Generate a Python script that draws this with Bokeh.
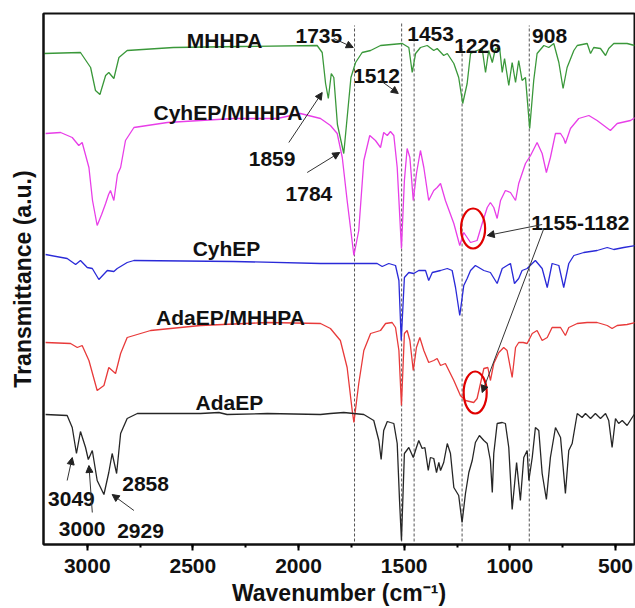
from bokeh.plotting import figure
from bokeh.models import Range1d, SingleIntervalTicker, FixedTicker, Arrow, NormalHead
from bokeh.embed import file_html
from bokeh.resources import INLINE
from bokeh.core.properties import value

# ---------------- data (wavenumber cm-1, transmittance a.u. with offsets) ----------------
mhhpa_wn = [3207, 3032, 2984, 2961, 2940, 2913, 2898, 2874, 2850, 2811, 2592, 2275, 1912, 1888, 1872,
            1859, 1845, 1833, 1816, 1786, 1773, 1752, 1730, 1699, 1659, 1612, 1509, 1478, 1462, 1446,
            1423, 1391, 1360, 1344, 1313, 1296, 1265, 1242, 1223, 1202, 1186, 1155, 1131, 1115, 1100,
            1083, 1068, 1048, 1036, 1025, 1005, 989, 973, 958, 942, 926, 906, 887, 871, 839, 816, 792,
            768, 748, 729, 697, 681, 634, 618, 603, 571, 547, 532, 508, 445, 409]
mhhpa_y = [491, 492, 477, 454, 450, 469, 472, 466, 487, 494, 497, 498, 499, 492, 461,
           446, 471, 467, 420, 391, 420, 467, 482, 492, 494, 499, 501, 497, 472, 491,
           497, 499, 494, 496, 489, 491, 481, 467, 441, 461, 491, 494, 496, 472, 494,
           482, 496, 496, 472, 486, 459, 482, 462, 484, 464, 467, 416, 464, 491, 499, 497, 501,
           482, 456, 477, 494, 499, 501, 491, 497, 496, 489, 496, 501, 501, 499]

cyh_mh_wn = [3197, 3126, 3071, 3040, 3024, 2992, 2975, 2953, 2932, 2913, 2899, 2890, 2874, 2857, 2842,
             2819, 2779, 2621, 2308, 2101, 1991, 1896, 1849, 1817, 1793, 1770, 1738, 1715, 1691, 1663,
             1636, 1612, 1597, 1580, 1565, 1549, 1533, 1513, 1499, 1486, 1473, 1457, 1442, 1423, 1407,
             1384, 1360, 1344, 1328, 1305, 1265, 1237, 1218, 1186, 1155, 1131, 1107, 1092, 1076, 1060,
             1044, 1021, 997, 973, 958, 926, 902, 871, 847, 827, 808, 784, 760, 745, 737, 713, 674,
             626, 587, 524, 492, 429, 405]
cyh_mh_y = [411, 412, 407, 399, 402, 377, 344, 319, 330, 341, 350, 354, 344, 370, 377,
            404, 417, 422, 426, 426, 431, 426, 419, 411, 387, 344, 289, 314, 384, 409,
            404, 397, 412, 409, 413, 409, 377, 296, 364, 396, 387, 344, 371, 394, 377,
            344, 354, 357, 361, 344, 321, 299, 312, 302, 304, 321, 337, 342, 337, 326,
            344, 354, 352, 344, 361, 381, 389, 402, 391, 372, 387, 411, 411, 406, 401, 416, 426,
            429, 424, 414, 421, 424, 427]

cyh_wn = [3197, 3095, 3055, 3032, 3000, 2976, 2945, 2905, 2874, 2858, 2811, 2779, 2308, 1896, 1849,
          1628, 1604, 1573, 1541, 1525, 1514, 1499, 1478, 1455, 1431, 1399, 1384, 1367, 1328, 1296,
          1273, 1257, 1237, 1218, 1202, 1186, 1163, 1123, 1092, 1060, 1036, 1013, 997, 978, 958,
          942, 918, 894, 879, 847, 823, 800, 768, 745, 721, 697, 650, 587, 539, 508, 461, 405]
cyh_y = [290, 286, 280, 284, 277, 276, 265, 274, 273, 276, 282, 284, 283, 281, 281,
         281, 278, 281, 279, 264, 204, 267, 272, 271, 274, 274, 264, 272, 274, 276,
         274, 257, 229, 259, 266, 274, 279, 274, 272, 261, 276, 279, 281, 261, 266,
         274, 276, 281, 284, 276, 257, 281, 279, 257, 281, 289, 292, 294, 297, 295, 297, 299]

ada_mh_wn = [3197, 3079, 3047, 3024, 2992, 2953, 2921, 2898, 2866, 2842, 2811, 2700, 2464, 2148, 1896,
             1849, 1802, 1770, 1746, 1738, 1715, 1691, 1659, 1612, 1588, 1557, 1541, 1525, 1513, 1499,
             1486, 1473, 1457, 1442, 1426, 1407, 1384, 1360, 1344, 1328, 1305, 1265, 1234, 1210, 1171,
             1155, 1139, 1123, 1104, 1092, 1076, 1052, 1029, 1013, 989, 973, 958, 937, 918, 894, 871,
             847, 823, 800, 760, 737, 721, 681, 634, 587, 539, 516, 492, 445, 405]
ada_mh_y = [202, 201, 197, 199, 184, 154, 159, 177, 171, 191, 207, 214, 219, 222, 221,
            216, 204, 177, 134, 122, 161, 194, 211, 214, 221, 222, 217, 194, 139, 211,
            214, 204, 174, 197, 207, 194, 182, 184, 186, 179, 181, 164, 149, 144, 142,
            146, 161, 176, 177, 164, 181, 192, 197, 194, 167, 197, 202, 202, 201, 211, 214,
            204, 207, 217, 217, 209, 217, 221, 222, 222, 219, 216, 219, 220, 222]

ada_wn = [3197, 3095, 3071, 3051, 3032, 3008, 2995, 2976, 2953, 2921, 2898, 2882, 2861, 2842, 2811,
          2763, 2464, 2377, 2338, 2148, 1896, 1849, 1786, 1691, 1644, 1620, 1609, 1597, 1580, 1565,
          1549, 1533, 1522, 1513, 1499, 1478, 1457, 1442, 1431, 1415, 1402, 1386, 1376, 1360, 1347,
          1336, 1328, 1313, 1296, 1281, 1265, 1242, 1226, 1210, 1194, 1178, 1163, 1144, 1123, 1107,
          1092, 1083, 1076, 1060, 1036, 1021, 1005, 989, 968, 950, 934, 918, 910, 894, 879, 863,
          847, 827, 808, 784, 760, 737, 721, 705, 681, 658, 642, 618, 595, 571, 547, 532, 516,
          500, 485, 468, 445, 421, 405]
ada_y = [130, 129, 117, 91, 113, 97, 85, 94, 64, 50, 72, 91, 71, 111, 126,
         131, 131, 132, 130, 131, 130, 131, 132, 130, 124, 104, 85, 114, 123, 122,
         121, 101, 44, 4, 91, 97, 87, 97, 104, 96, 97, 74, 87, 86, 72,
         82, 74, 82, 101, 91, 57, 49, 22, 51, 72, 84, 102, 109, 104, 101,
         84, 52, 91, 121, 122, 121, 97, 35, 82, 44, 87, 94, 64, 87, 117, 114,
         71, 45, 87, 117, 107, 51, 94, 101, 131, 127, 131, 126, 131, 126, 131, 124, 97,
         126, 121, 124, 119, 127, 132]

series_names = ["MHHPA", "CyhEP/MHHPA", "CyhEP", "AdaEP/MHHPA", "AdaEP"]
series_colors = ["#3a983a", "#e83ee8", "#2a2ad8", "#e83a3a", "#262626"]
name_wn = [2350, 2334, 2341, 2322, 2327]
name_y = [504, 432, 296, 227, 142]

dash_wn = [1735, 1512, 1453, 1226, 908]
dash_top = [519, 521, 508, 499, 519]

peak_text = ["1735", "1453", "1226", "908", "1512", "1859", "1784", "1155-1182",
             "3049", "3000", "2858", "2929"]
peak_wn = [1904, 1375, 1153, 812, 1631, 2125, 1951, 666, 3075, 3024, 2724, 2748]
peak_y = [509, 511, 499, 509, 469, 386, 351, 322, 46, 16, 61, 14]

arrow_wn0 = [1833, 1612, 2046, 1959, 847, 839, 3095, 2976, 2779]
arrow_y0 = [506, 464, 402, 372, 320, 316, 64, 32, 34]
arrow_wn1 = [1741, 1528, 1888, 1805, 1107, 1131, 3071, 2992, 2882]
arrow_y1 = [497, 451, 452, 392, 309, 152, 87, 79, 50]

circle_wn = [1174, 1164]
circle_y = [316, 152]
circle_w = [114, 109]
circle_h = [40, 42]

# ---------------- figure ----------------
FONT = "Liberation Sans"
p = figure(width=635, height=608, output_backend="svg", toolbar_location=None,
           x_range=Range1d(3207, 410), y_range=Range1d(0, 531),
           min_border_left=43, min_border_right=1, min_border_top=13, min_border_bottom=64)
p.background_fill_color = "white"
p.border_fill_color = "white"
p.outline_line_color = "#111111"
p.outline_line_width = 2
p.xgrid.visible = False
p.ygrid.visible = False

xa = p.xaxis[0]
xa.ticker = SingleIntervalTicker(interval=500, num_minor_ticks=2)
xa.axis_line_width = 2
xa.axis_line_color = "#111111"
xa.major_tick_in = 0
xa.major_tick_out = 6
xa.minor_tick_in = 0
xa.minor_tick_out = 3
xa.major_tick_line_width = 2
xa.minor_tick_line_width = 2
xa.major_label_text_font = FONT
xa.major_label_text_font_style = "bold"
xa.major_label_text_font_size = "21px"
xa.major_label_text_color = "#111111"
xa.major_label_standoff = 8
xa.axis_label = "Wavenumber (cm\u207b\u00b9)"
xa.axis_label_text_font = FONT
xa.axis_label_text_font_style = "bold"
xa.axis_label_text_font_size = "23px"
xa.axis_label_text_color = "#111111"
xa.axis_label_standoff = 4

ya = p.yaxis[0]
ya.ticker = FixedTicker(ticks=[])
ya.axis_line_width = 2
ya.axis_line_color = "#111111"
ya.major_tick_in = 0
ya.major_tick_out = 0
ya.minor_tick_in = 0
ya.minor_tick_out = 0
ya.major_label_text_font_size = "0px"
ya.major_label_standoff = 0
ya.axis_label = "Transmittance (a.u.)"
ya.axis_label_text_font = FONT
ya.axis_label_text_font_style = "bold"
ya.axis_label_text_font_size = "23px"
ya.axis_label_text_color = "#111111"
ya.axis_label_standoff = 8

# dashed guide lines
p.segment(x0=dash_wn, x1=dash_wn, y0=[3] * len(dash_wn), y1=dash_top,
          line_color="#555555", line_width=1, line_dash="3 2")

# spectra
all_series = [(mhhpa_wn, mhhpa_y), (cyh_mh_wn, cyh_mh_y), (cyh_wn, cyh_y),
              (ada_mh_wn, ada_mh_y), (ada_wn, ada_y)]
for (wn, yy), c in zip(all_series, series_colors):
    p.line(wn, yy, line_color=c, line_width=1.3)

# red circles
p.ellipse(x=circle_wn, y=circle_y, width=circle_w, height=circle_h,
          fill_alpha=0, line_color="#e00000", line_width=2.2)

# arrows
for x0, y0, x1, y1 in zip(arrow_wn0, arrow_y0, arrow_wn1, arrow_y1):
    p.add_layout(Arrow(x_start=x0, y_start=y0, x_end=x1, y_end=y1,
                       line_color="#333333", line_width=1,
                       end=NormalHead(size=7, fill_color="#222222", line_color="#222222", line_width=1)))

# series names
p.text(x=name_wn, y=name_y, text=series_names, text_font=value(FONT), text_font_style="bold",
       text_font_size="21px", text_color="#111111", text_align="center", text_baseline="alphabetic")

# peak labels
p.text(x=peak_wn, y=peak_y, text=peak_text, text_font=value(FONT), text_font_style="bold",
       text_font_size="21px", text_color="#111111", text_align="center", text_baseline="alphabetic")

open("out.html", "w").write(file_html(p, INLINE))
